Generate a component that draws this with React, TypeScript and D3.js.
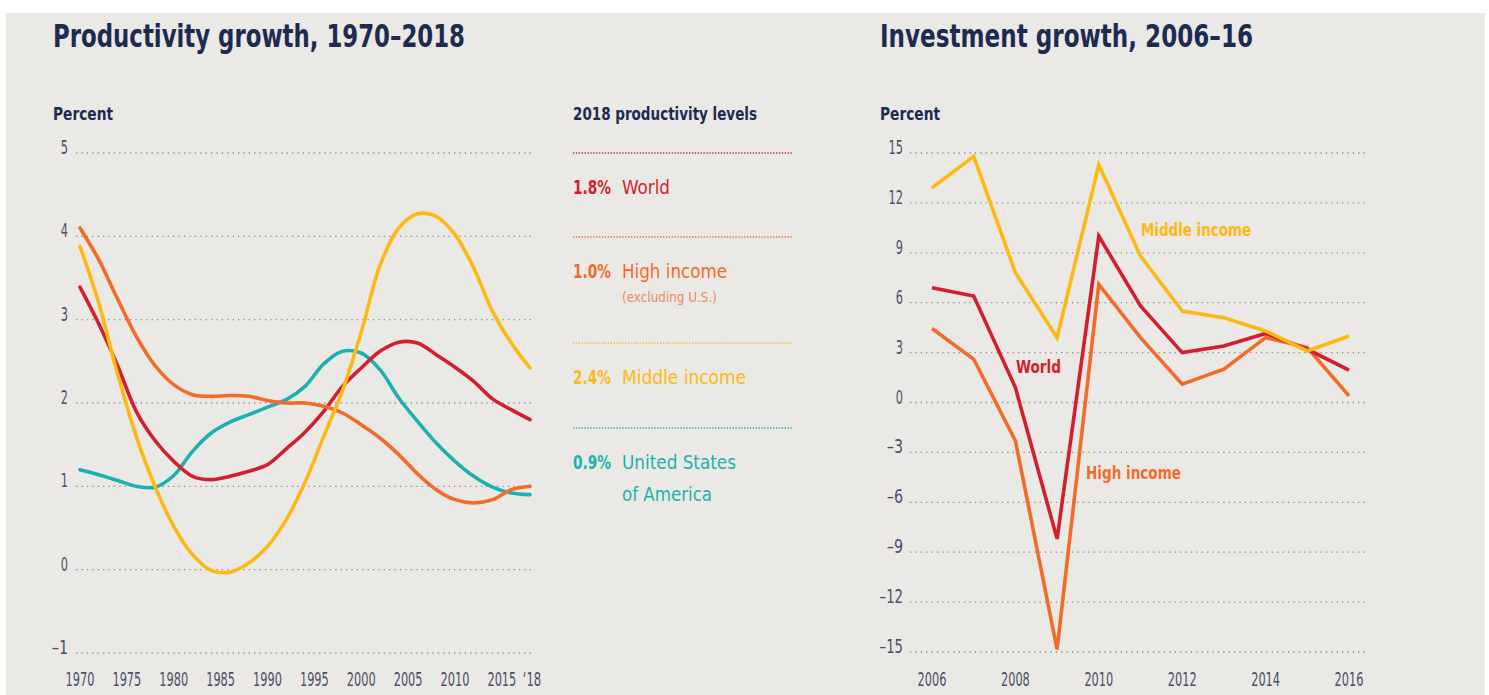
import React from "react";
import * as d3 from "d3";

// ---------- Data: Productivity growth 1970–2018 ----------
const prodYears = [1970, 1972, 1974, 1976, 1978, 1980, 1982, 1984, 1986, 1988, 1990, 1992, 1994, 1996, 1998, 2000, 2002, 2004, 2006, 2008, 2010, 2012, 2014, 2016, 2018];
const prodWorld = [3.39, 2.95, 2.45, 1.9, 1.55, 1.3, 1.12, 1.08, 1.12, 1.18, 1.26, 1.45, 1.65, 1.9, 2.2, 2.42, 2.62, 2.73, 2.72, 2.58, 2.43, 2.26, 2.05, 1.92, 1.8];
const prodHigh = [4.1, 3.72, 3.25, 2.8, 2.45, 2.22, 2.1, 2.08, 2.09, 2.08, 2.03, 2.0, 2.0, 1.96, 1.88, 1.74, 1.58, 1.38, 1.15, 0.96, 0.84, 0.8, 0.84, 0.96, 1.0];
const prodMiddle = [3.88, 3.2, 2.35, 1.6, 1.0, 0.52, 0.18, -0.01, -0.03, 0.08, 0.28, 0.6, 1.05, 1.6, 2.15, 2.85, 3.65, 4.1, 4.27, 4.24, 4.02, 3.62, 3.1, 2.72, 2.42];
const prodUSA = [1.2, 1.14, 1.07, 1.0, 0.99, 1.13, 1.42, 1.64, 1.77, 1.86, 1.95, 2.04, 2.2, 2.47, 2.62, 2.6, 2.4, 2.06, 1.78, 1.52, 1.3, 1.12, 0.99, 0.92, 0.9];
const prodYTicks = [5, 4, 3, 2, 1, 0, -1];
const prodXTicks = [1970, 1975, 1980, 1985, 1990, 1995, 2000, 2005, 2010, 2015, 2018];
const prodXTickLabels = ["1970", "1975", "1980", "1985", "1990", "1995", "2000", "2005", "2010", "2015", "\u201818"];

// ---------- Legend ----------
const legendValues = ["1.8%", "1.0%", "2.4%", "0.9%"];
const legendNames = [["World"], ["High income"], ["Middle income"], ["United States", "of America"]];
const legendNotes = ["", "(excluding U.S.)", "", ""];

// ---------- Data: Investment growth 2006–16 ----------
const invYears = [2006, 2007, 2008, 2009, 2010, 2011, 2012, 2013, 2014, 2015, 2016];
const invMiddle = [12.9, 14.8, 7.8, 3.9, 14.3, 8.8, 5.5, 5.1, 4.3, 3.1, 4.0];
const invWorld = [6.9, 6.4, 0.9, -8.2, 10.0, 5.8, 3.0, 3.4, 4.15, 3.2, 1.95];
const invHigh = [4.45, 2.6, -2.3, -14.85, 7.1, 3.9, 1.1, 2.0, 3.9, 3.3, 0.4];
const invYTicks = [15, 12, 9, 6, 3, 0, -3, -6, -9, -12, -15];
const invXTicks = [2006, 2008, 2010, 2012, 2014, 2016];

// ---------- Styles ----------
const C_RED = "#d21f30";
const C_ORANGE = "#f26b2b";
const C_YELLOW = "#fdb913";
const C_TEAL = "#1bb1b3";
const C_NAVY = "#1d2a52";
const C_TICK = "#4b5068";
const C_GRID = "#8a8a8a";
const BG = "#ebe9e5";
const FONT = "'DejaVu Sans Condensed', 'Liberation Sans Narrow', Roboto, sans-serif";

function fmtNum(v: number) {
  return v < 0 ? "\u2013" + Math.abs(v) : String(v);
}
// approximate width of a condensed numeric label
function numWidth(s: string) {
  let w = 0;
  for (const ch of s) w += ch === "\u2013" ? 9 : ch === "\u2018" ? 4 : 7.2;
  return w;
}

export default function App() {
  // Left chart scales
  const xL = d3.scaleLinear().domain([1970, 2018]).range([80, 530]);
  const yL = d3.scaleLinear().domain([-1, 5]).range([653, 153]);
  const lineL = d3
    .line<[number, number]>()
    .x((d) => xL(d[0]))
    .y((d) => yL(d[1]))
    .curve(d3.curveCatmullRom.alpha(0.5));
  const leftSeries = [
    { vals: prodUSA, color: C_TEAL },
    { vals: prodWorld, color: C_RED },
    { vals: prodHigh, color: C_ORANGE },
    { vals: prodMiddle, color: C_YELLOW },
  ];

  // Right chart scales
  const xR = d3.scaleLinear().domain([2006, 2016]).range([932, 1349]);
  const yR = d3.scaleLinear().domain([-15, 15]).range([652, 153]);
  const lineR = d3
    .line<[number, number]>()
    .x((d) => xR(d[0]))
    .y((d) => yR(d[1]));
  const rightSeries = [
    { vals: invHigh, color: C_ORANGE },
    { vals: invWorld, color: C_RED },
    { vals: invMiddle, color: C_YELLOW },
  ];

  const legendColors = [C_RED, C_ORANGE, C_YELLOW, C_TEAL];
  const legendLineY = [153, 237, 343, 428];
  const legendNameW: Record<string, number> = {
    World: 48,
    "High income": 105,
    "Middle income": 124,
    "United States": 114,
    "of America": 90,
  };

  return (
    <svg
      width={1489}
      height={695}
      style={{ position: "absolute", left: 0, top: 0, fontFamily: FONT }}
    >
      <rect x={0} y={0} width={1489} height={695} fill="#ffffff" />
      <rect x={6} y={13} width={1479} height={682} fill={BG} />

      {/* Titles */}
      <text x={53} y={47} fontSize={32} fontWeight={600} fill={C_NAVY} textLength={412} lengthAdjust="spacingAndGlyphs">
        Productivity growth, 1970–2018
      </text>
      <text x={880} y={47} fontSize={32} fontWeight={600} fill={C_NAVY} textLength={373} lengthAdjust="spacingAndGlyphs">
        Investment growth, 2006–16
      </text>

      {/* ---- Left chart ---- */}
      <text x={53} y={120} fontSize={17} fontWeight={700} fill={C_NAVY} textLength={60} lengthAdjust="spacingAndGlyphs">
        Percent
      </text>
      {prodYTicks.map((t) => (
        <g key={"lg" + t}>
          <line x1={76} x2={533} y1={yL(t)} y2={yL(t)} stroke={C_GRID} strokeWidth={1.3} strokeDasharray="1.3 4.1" />
          <text x={68} y={yL(t) + 1} fontSize={19} fill={C_TICK} textAnchor="end" textLength={numWidth(fmtNum(t))} lengthAdjust="spacingAndGlyphs">
            {fmtNum(t)}
          </text>
        </g>
      ))}
      {prodXTicks.map((t, i) => (
        <text
          key={"lx" + t}
          x={xL(t) + (t === 2018 ? 2 : 0)}
          y={686}
          fontSize={19}
          fill={C_TICK}
          textAnchor="middle"
          textLength={numWidth(prodXTickLabels[i])}
          lengthAdjust="spacingAndGlyphs"
        >
          {prodXTickLabels[i]}
        </text>
      ))}
      {leftSeries.map((s, i) => (
        <path
          key={"ls" + i}
          d={lineL(prodYears.map((y, j) => [y, s.vals[j]] as [number, number])) || ""}
          fill="none"
          stroke={s.color}
          strokeWidth={3.6}
          strokeLinecap="round"
          strokeLinejoin="round"
        />
      ))}

      {/* ---- Legend ---- */}
      <text x={573} y={120} fontSize={17} fontWeight={700} fill={C_NAVY} textLength={184} lengthAdjust="spacingAndGlyphs">
        2018 productivity levels
      </text>
      {legendValues.map((v, i) => (
        <g key={"leg" + i}>
          <line
            x1={573}
            x2={793}
            y1={legendLineY[i]}
            y2={legendLineY[i]}
            stroke={legendColors[i]}
            strokeWidth={1.3}
            strokeDasharray="1.3 1.6"
          />
          <text x={573} y={legendLineY[i] + 41} fontSize={20} fontWeight={700} fill={legendColors[i]} textLength={38} lengthAdjust="spacingAndGlyphs">
            {v}
          </text>
          {legendNames[i].map((n, k) => (
            <text
              key={k}
              x={622}
              y={legendLineY[i] + 41 + k * 32}
              fontSize={20}
              fill={legendColors[i]}
              textLength={legendNameW[n]}
              lengthAdjust="spacingAndGlyphs"
            >
              {n}
            </text>
          ))}
          {legendNotes[i] && (
            <text x={622} y={legendLineY[i] + 65} fontSize={14} fill={legendColors[i]} opacity={0.75} textLength={95} lengthAdjust="spacingAndGlyphs">
              {legendNotes[i]}
            </text>
          )}
        </g>
      ))}

      {/* ---- Right chart ---- */}
      <text x={880} y={120} fontSize={17} fontWeight={700} fill={C_NAVY} textLength={60} lengthAdjust="spacingAndGlyphs">
        Percent
      </text>
      {invYTicks.map((t) => (
        <g key={"rg" + t}>
          <line x1={910} x2={1368} y1={yR(t)} y2={yR(t)} stroke={C_GRID} strokeWidth={1.3} strokeDasharray="1.3 4.1" />
          <text x={903} y={yR(t) + 1} fontSize={19} fill={C_TICK} textAnchor="end" textLength={numWidth(fmtNum(t))} lengthAdjust="spacingAndGlyphs">
            {fmtNum(t)}
          </text>
        </g>
      ))}
      {invXTicks.map((t) => (
        <text
          key={"rx" + t}
          x={xR(t)}
          y={686}
          fontSize={19}
          fill={C_TICK}
          textAnchor="middle"
          textLength={numWidth(String(t))}
          lengthAdjust="spacingAndGlyphs"
        >
          {t}
        </text>
      ))}
      {rightSeries.map((s, i) => (
        <path
          key={"rs" + i}
          d={lineR(invYears.map((y, j) => [y, s.vals[j]] as [number, number])) || ""}
          fill="none"
          stroke={s.color}
          strokeWidth={3.6}
          strokeLinejoin="miter"
        />
      ))}
      <text x={1141} y={236} fontSize={18} fontWeight={700} fill={C_YELLOW} textLength={110} lengthAdjust="spacingAndGlyphs">
        Middle income
      </text>
      <text x={1016} y={373} fontSize={18} fontWeight={700} fill={C_RED} textLength={45} lengthAdjust="spacingAndGlyphs">
        World
      </text>
      <text x={1086} y={479} fontSize={18} fontWeight={700} fill={C_ORANGE} textLength={95} lengthAdjust="spacingAndGlyphs">
        High income
      </text>
    </svg>
  );
}
